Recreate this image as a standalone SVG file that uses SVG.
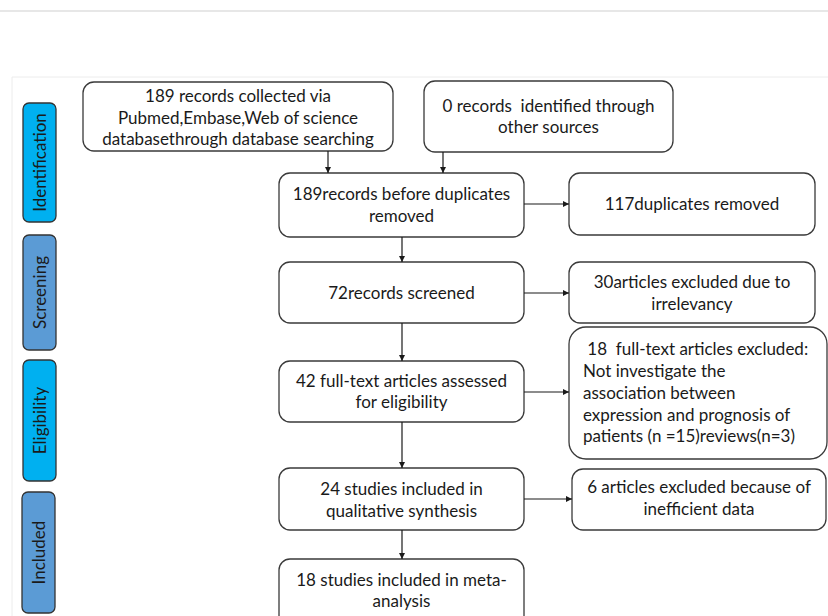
<svg xmlns="http://www.w3.org/2000/svg" width="828" height="616" viewBox="0 0 828 616">
<style>
  .box{fill:#fff;stroke:#3a3a3a;stroke-width:1.3}
  .t{font-family:Lato,"Open Sans","Liberation Sans",sans-serif;font-size:17px;fill:#1a1a1a}
  .c{text-anchor:middle}
  .side1{fill:#00b0f0;stroke:#333;stroke-width:1.3}
  .side2{fill:#5b9bd5;stroke:#333;stroke-width:1.3}
  .conn{stroke:#1a1a1a;stroke-width:1.2;fill:none;marker-end:url(#ah)}
</style>
<defs>
  <marker id="ah" viewBox="0 0 10 10" refX="10" refY="5" markerWidth="6" markerHeight="6" markerUnits="userSpaceOnUse" orient="auto">
    <path d="M0,0 L10,5 L0,10 z" fill="#1a1a1a"/>
  </marker>
</defs>
<rect width="828" height="616" fill="#fff"/>
<line x1="0" y1="11" x2="828" y2="11" stroke="#cfcfcf" stroke-width="1.2"/>
<path d="M12,616 V77 H828" fill="none" stroke="#ececec" stroke-width="1"/>

<g id="side-identification">
  <rect class="side1" x="23" y="103" width="33" height="119" rx="6"/>
  <text class="t c" transform="translate(45.5,162.5) rotate(-90)">Identification</text>
</g>
<g id="side-screening">
  <rect class="side2" x="23" y="235" width="33" height="115" rx="6"/>
  <text class="t c" transform="translate(45.5,292.5) rotate(-90)">Screening</text>
</g>
<g id="side-eligibility">
  <rect class="side1" x="23" y="360" width="33" height="121" rx="6"/>
  <text class="t c" transform="translate(45.5,420.5) rotate(-90)">Eligibility</text>
</g>
<g id="side-included">
  <rect class="side2" x="22" y="492" width="33" height="121" rx="6"/>
  <text class="t c" transform="translate(44.5,552.5) rotate(-90)">Included</text>
</g>

<g id="n-database">
  <rect class="box" x="83" y="82" width="310" height="69" rx="11"/>
  <text class="t c" x="238" y="102">189 records collected via</text>
  <text class="t c" x="238" y="123.5">Pubmed,Embase,Web of science</text>
  <text class="t c" x="238" y="145">databasethrough database searching</text>
</g>
<g id="n-other">
  <rect class="box" x="424" y="81" width="249" height="71" rx="11"/>
  <text class="t c" x="548.5" y="112" xml:space="preserve">0 records  identified through</text>
  <text class="t c" x="548.5" y="133">other sources</text>
</g>
<g id="n-before-dup">
  <rect class="box" x="279" y="173" width="245" height="64" rx="11"/>
  <text class="t c" x="401.5" y="200">189records before duplicates</text>
  <text class="t c" x="401.5" y="222">removed</text>
</g>
<g id="n-dup-removed">
  <rect class="box" x="569" y="173" width="246" height="62" rx="11"/>
  <text class="t c" x="692" y="210">117duplicates removed</text>
</g>
<g id="n-screened">
  <rect class="box" x="279" y="262" width="245" height="61" rx="11"/>
  <text class="t c" x="401.5" y="299">72records screened</text>
</g>
<g id="n-irrelevant">
  <rect class="box" x="569" y="262" width="246" height="61" rx="11"/>
  <text class="t c" x="692" y="288">30articles excluded due to</text>
  <text class="t c" x="692" y="310">irrelevancy</text>
</g>
<g id="n-fulltext">
  <rect class="box" x="279" y="361" width="245" height="61" rx="11"/>
  <text class="t c" x="401.5" y="387">42 full-text articles assessed</text>
  <text class="t c" x="401.5" y="408">for eligibility</text>
</g>
<g id="n-fulltext-excluded">
  <rect class="box" x="569" y="327" width="258" height="132" rx="17"/>
  <text class="t" x="583" y="355" xml:space="preserve"> 18  full-text articles excluded:</text>
  <text class="t" x="583" y="377">Not investigate the</text>
  <text class="t" x="583" y="399">association between</text>
  <text class="t" x="583" y="421">expression and prognosis of</text>
  <text class="t" x="583" y="442">patients (n =15)reviews(n=3)</text>
</g>
<g id="n-qualitative">
  <rect class="box" x="279" y="468" width="245" height="62" rx="11"/>
  <text class="t c" x="401.5" y="495">24 studies included in</text>
  <text class="t c" x="401.5" y="517">qualitative synthesis</text>
</g>
<g id="n-inefficient">
  <rect class="box" x="572" y="469" width="254" height="61" rx="11"/>
  <text class="t c" x="699" y="493">6 articles excluded because of</text>
  <text class="t c" x="699" y="515">inefficient data</text>
</g>
<g id="n-meta">
  <rect class="box" x="279" y="559" width="245" height="70" rx="11"/>
  <text class="t c" x="401.5" y="586">18 studies included in meta-</text>
  <text class="t c" x="401.5" y="607">analysis</text>
</g>

<g id="connectors">
  <line class="conn" x1="328" y1="151" x2="328" y2="173"/>
  <line class="conn" x1="443" y1="152" x2="443" y2="173"/>
  <line class="conn" x1="524" y1="204" x2="569" y2="204"/>
  <line class="conn" x1="402" y1="237" x2="402" y2="262"/>
  <line class="conn" x1="524" y1="293" x2="569" y2="293"/>
  <line class="conn" x1="402" y1="323" x2="402" y2="361"/>
  <line class="conn" x1="524" y1="392" x2="569" y2="392"/>
  <line class="conn" x1="402" y1="422" x2="402" y2="468"/>
  <line class="conn" x1="524" y1="499" x2="572" y2="499"/>
  <line class="conn" x1="402" y1="530" x2="402" y2="559"/>
</g>
</svg>
